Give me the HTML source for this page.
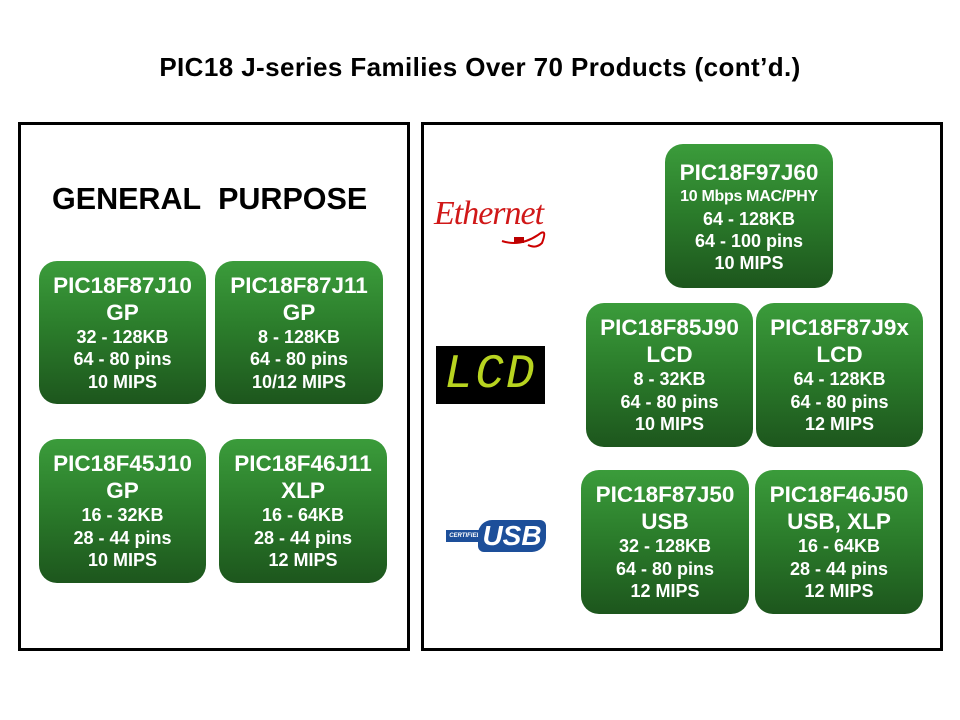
<!DOCTYPE html>
<html><head><meta charset="utf-8"><style>
body{margin:0;width:960px;height:720px;background:#fff;position:relative;font-family:"Liberation Sans",Arial,sans-serif;overflow:hidden}
.t{position:absolute;left:0;width:960px;top:52px;text-align:center;font-weight:bold;font-size:26px;color:#000;letter-spacing:0.4px}
.f{position:absolute;border:3px solid #000;box-sizing:border-box}
.b{position:absolute;border-radius:18px;background:linear-gradient(#3b9c3b,#2a7a2a 50%,#1d561d);color:#fff;font-weight:bold;display:flex;flex-direction:column;align-items:center;justify-content:center;text-align:center;font-size:18px;line-height:22.5px;white-space:nowrap}
.b .h{font-size:22.5px;line-height:27px}
.gp{position:absolute;left:52px;top:182px;font-weight:bold;font-size:30.5px;color:#000}
</style></head><body>
<div class="t">PIC18 J-series Families Over 70 Products (cont’d.)</div>
<div class="f" style="left:18px;top:122px;width:392px;height:529px"></div>
<div class="f" style="left:421px;top:122px;width:522px;height:529px"></div>
<div class="gp">GENERAL&nbsp; PURPOSE</div>

<div class="b" style="left:39px;top:261px;width:167px;height:143px"><div class="h">PIC18F87J10</div><div class="h">GP</div><div>32 - 128KB</div><div>64 - 80 pins</div><div>10 MIPS</div></div>
<div class="b" style="left:215px;top:261px;width:168px;height:143px"><div class="h">PIC18F87J11</div><div class="h">GP</div><div>8 - 128KB</div><div>64 - 80 pins</div><div>10/12 MIPS</div></div>
<div class="b" style="left:39px;top:439px;width:167px;height:144px"><div class="h">PIC18F45J10</div><div class="h">GP</div><div>16 - 32KB</div><div>28 - 44 pins</div><div>10 MIPS</div></div>
<div class="b" style="left:219px;top:439px;width:168px;height:144px"><div class="h">PIC18F46J11</div><div class="h">XLP</div><div>16 - 64KB</div><div>28 - 44 pins</div><div>12 MIPS</div></div>

<div class="b" style="left:665px;top:144px;width:168px;height:144px;line-height:22px"><div class="h">PIC18F97J60</div><div style="font-size:16px;letter-spacing:-0.3px">10 Mbps MAC/PHY</div><div>64 - 128KB</div><div>64 - 100 pins</div><div>10 MIPS</div></div>
<div class="b" style="left:586px;top:303px;width:167px;height:144px"><div class="h">PIC18F85J90</div><div class="h">LCD</div><div>8 - 32KB</div><div>64 - 80 pins</div><div>10 MIPS</div></div>
<div class="b" style="left:756px;top:303px;width:167px;height:144px"><div class="h">PIC18F87J9x</div><div class="h">LCD</div><div>64 - 128KB</div><div>64 - 80 pins</div><div>12 MIPS</div></div>
<div class="b" style="left:581px;top:470px;width:168px;height:144px"><div class="h">PIC18F87J50</div><div class="h">USB</div><div>32 - 128KB</div><div>64 - 80 pins</div><div>12 MIPS</div></div>
<div class="b" style="left:755px;top:470px;width:168px;height:144px"><div class="h">PIC18F46J50</div><div class="h">USB, XLP</div><div>16 - 64KB</div><div>28 - 44 pins</div><div>12 MIPS</div></div>

<div style="position:absolute;left:434px;top:195px;font-family:'Liberation Serif',serif;font-style:italic;font-size:34px;color:#d01818;letter-spacing:-1px">Ethernet</div>
<svg style="position:absolute;left:500px;top:225px" width="50" height="25"><path d="M2 16 Q20 22 38 10 Q48 2 42 18 Q36 24 28 20" stroke="#c00" stroke-width="2" fill="none"/><rect x="14" y="12" width="10" height="6" fill="#b00"/></svg>
<div style="position:absolute;left:436px;top:346px;width:109px;height:58px;background:#000;color:#b8d420;font-family:'Liberation Mono',monospace;font-style:italic;font-size:48px;line-height:58px;text-align:center;letter-spacing:2px">LCD</div>
<div style="position:absolute;left:446px;top:530px;width:38px;height:12px;background:#1d4f9a;color:#fff;font-size:6px;font-weight:bold;line-height:12px;text-align:center;font-style:italic">CERTIFIED</div>
<div style="position:absolute;left:478px;top:520px;width:68px;height:32px;background:#1d4f9a;border-radius:14px 6px 14px 6px;color:#fff;font-size:28px;font-weight:bold;font-style:italic;line-height:32px;text-align:center">USB</div>
</body></html>
